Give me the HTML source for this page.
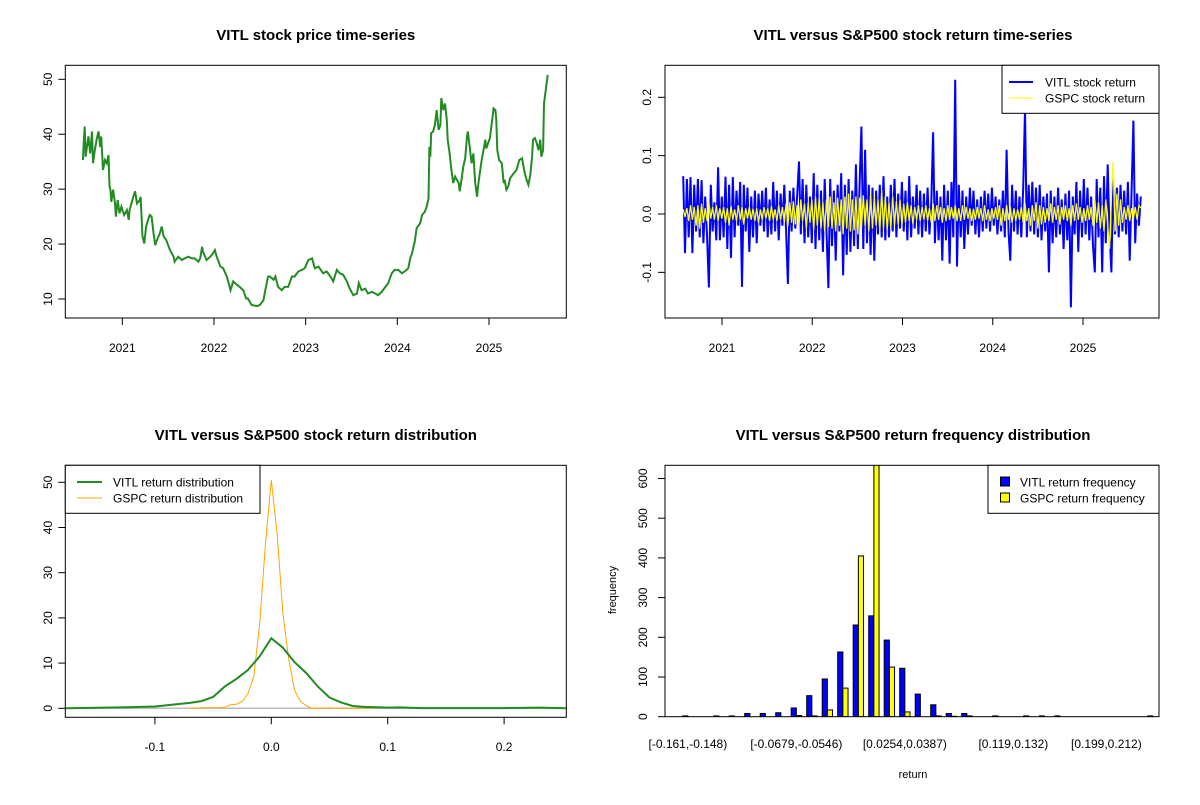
<!DOCTYPE html>
<html><head><meta charset="utf-8"><style>
body{margin:0;background:#fff}
svg text{font-family:"Liberation Sans",Arial,sans-serif;fill:#000}
</style></head><body>
<svg id="c" width="1200" height="800" viewBox="0 0 1200 800" xmlns="http://www.w3.org/2000/svg">
<defs>
<clipPath id="cp2"><rect x="665" y="65.3" width="494" height="252.7"/></clipPath>
<clipPath id="cp4"><rect x="665" y="465.3" width="494" height="251.4"/></clipPath>
</defs>
</svg>
<script>
// ---- data ----
const priceDates=[2020.57,2020.58,2020.59,2020.60,2020.63,2020.65,2020.67,2020.68,2020.70,2020.72,2020.74,2020.76,2020.77,2020.79,2020.81,2020.83,2020.85,2020.86,2020.87,2020.88,2020.90,2020.92,2020.93,2020.95,2020.97,2020.99,2021.02,2021.05,2021.07,2021.08,2021.12,2021.14,2021.16,2021.19,2021.20,2021.22,2021.24,2021.26,2021.28,2021.30,2021.32,2021.34,2021.36,2021.37,2021.41,2021.43,2021.45,2021.48,2021.52,2021.56,2021.57,2021.61,2021.65,2021.68,2021.72,2021.76,2021.79,2021.83,2021.85,2021.87,2021.88,2021.92,2021.96,2021.99,2022.01,2022.03,2022.07,2022.10,2022.14,2022.16,2022.18,2022.21,2022.25,2022.28,2022.32,2022.35,2022.37,2022.41,2022.47,2022.50,2022.54,2022.56,2022.59,2022.61,2022.65,2022.67,2022.70,2022.74,2022.77,2022.81,2022.85,2022.88,2022.92,2022.96,2022.99,2023.03,2023.07,2023.10,2023.14,2023.19,2023.23,2023.27,2023.30,2023.34,2023.37,2023.41,2023.45,2023.48,2023.52,2023.56,2023.58,2023.61,2023.65,2023.68,2023.72,2023.76,2023.79,2023.83,2023.87,2023.90,2023.94,2023.97,2024.01,2024.05,2024.08,2024.12,2024.14,2024.16,2024.19,2024.21,2024.25,2024.27,2024.30,2024.32,2024.34,2024.35,2024.36,2024.37,2024.39,2024.41,2024.43,2024.45,2024.47,2024.48,2024.50,2024.52,2024.54,2024.55,2024.57,2024.59,2024.61,2024.63,2024.67,2024.68,2024.70,2024.72,2024.74,2024.76,2024.77,2024.79,2024.81,2024.83,2024.85,2024.87,2024.88,2024.90,2024.92,2024.94,2024.96,2024.97,2025.01,2025.03,2025.05,2025.07,2025.08,2025.09,2025.11,2025.14,2025.16,2025.17,2025.19,2025.21,2025.23,2025.27,2025.30,2025.33,2025.36,2025.39,2025.41,2025.43,2025.45,2025.47,2025.48,2025.50,2025.52,2025.54,2025.56,2025.57,2025.59,2025.60,2025.62,2025.64];
const prices=[35.3,38.7,41.4,35.9,39.6,36.5,40.5,34.7,37.1,39.0,40.5,37.7,39.6,33.5,35.3,34.7,36.2,30.5,29.9,27.7,29.9,27.4,25.0,28.0,25.6,26.8,25.3,26.2,24.4,26.2,28.6,29.6,27.4,28.0,28.6,21.4,20.1,23.2,24.4,25.3,25.0,22.0,19.8,20.4,22.0,23.2,21.4,20.7,18.9,17.7,16.8,17.7,17.1,17.4,17.7,17.4,17.4,16.8,17.4,19.5,18.6,17.1,17.7,18.3,18.9,17.7,15.9,15.6,14.1,12.9,11.6,13.2,12.6,12.2,11.6,10.1,10.1,8.9,8.7,8.9,9.8,11.6,14.1,14.1,13.5,14.1,12.2,11.6,12.2,12.2,14.1,14.1,15.0,15.3,15.6,17.1,17.4,15.6,15.9,14.7,15.0,14.1,13.2,15.3,14.7,14.4,13.2,11.9,10.7,11.0,12.9,11.6,11.9,11.0,11.3,11.0,10.7,11.3,12.2,12.9,14.7,15.3,15.3,14.7,15.0,15.6,17.4,18.3,20.4,22.9,23.8,25.3,25.9,26.8,28.3,37.7,35.9,40.2,40.5,41.7,44.4,40.8,41.7,46.6,44.4,45.6,42.6,39.0,36.5,33.5,31.1,32.3,31.1,29.6,31.7,34.1,35.6,39.6,40.5,37.7,34.7,36.5,31.1,28.6,30.5,32.9,35.3,37.1,39.0,37.4,39.3,42.0,44.7,44.4,42.6,37.1,35.3,34.7,31.1,31.7,29.9,30.5,32.0,32.9,33.5,35.3,35.6,32.9,31.7,30.8,32.6,35.9,39.0,39.3,38.4,37.1,39.0,35.9,37.1,45.6,48.1,50.8];
const priceYTicks=[10,20,30,40,50];
const yearTicks=[2021,2022,2023,2024,2025];

const vitlRet=[0.065,-0.067,0.06,-0.04,0.063,-0.067,0.05,-0.03,0.06,-0.04,
0.058,-0.05,0.03,-0.04,-0.126,0.05,-0.03,0.02,-0.045,0.08,
-0.045,0.03,-0.04,0.064,-0.06,0.05,-0.075,0.063,-0.04,0.04,
-0.02,0.055,-0.125,0.05,-0.03,0.045,-0.065,0.03,-0.04,0.04,
-0.05,0.035,-0.02,0.04,-0.03,0.045,-0.04,0.025,-0.035,0.055,
-0.03,0.04,-0.045,0.035,-0.02,0.05,-0.03,-0.12,0.04,-0.03,
0.045,-0.025,0.03,0.09,-0.035,0.06,-0.05,0.05,-0.04,0.03,
-0.05,0.07,-0.06,0.05,-0.045,0.04,-0.065,0.06,-0.03,-0.127,
0.06,-0.055,0.04,-0.08,0.05,-0.03,0.07,-0.105,0.05,-0.07,
0.06,-0.065,0.04,-0.055,0.085,-0.06,0.05,0.15,-0.06,0.11,
-0.05,0.05,-0.07,0.045,-0.08,0.04,-0.035,0.05,-0.04,0.065,
-0.045,0.03,-0.04,0.05,-0.03,0.06,-0.04,0.035,-0.025,0.055,
-0.03,0.04,-0.045,0.065,-0.04,0.03,-0.025,0.05,-0.035,0.04,
-0.04,0.035,-0.03,0.045,-0.035,0.02,0.14,-0.05,0.04,-0.045,
0.03,-0.08,0.05,-0.045,0.04,-0.085,0.055,-0.04,0.23,-0.09,
0.05,-0.04,0.04,-0.06,0.03,-0.035,0.045,-0.02,0.04,-0.035,
0.025,-0.04,0.03,-0.03,0.04,-0.025,0.035,-0.03,0.045,-0.02,
0.03,-0.035,0.025,-0.03,0.04,-0.04,0.11,-0.03,-0.08,0.05,
-0.03,0.04,-0.035,0.03,-0.04,0.045,0.18,-0.04,0.05,-0.03,
0.055,-0.035,0.045,-0.04,0.05,-0.045,0.03,-0.03,0.035,-0.10,
0.04,-0.05,0.03,-0.04,0.045,-0.035,0.025,-0.06,0.035,-0.045,
0.04,-0.16,0.03,-0.035,0.055,-0.065,0.04,-0.04,0.06,-0.035,
0.045,-0.045,0.03,-0.055,-0.10,0.06,-0.04,0.045,-0.10,0.065,
-0.05,0.085,-0.03,-0.10,0.06,-0.035,0.045,-0.04,0.05,-0.03,
0.04,-0.035,0.055,-0.08,0.04,0.16,-0.05,0.035,-0.02,0.03];
const gspcRet=[0.008,-0.005,0.01,-0.012,0.015,-0.01,0.012,-0.02,0.015,-0.025,
0.018,-0.015,0.01,-0.012,0.02,-0.008,0.012,-0.01,0.015,-0.012,
0.01,-0.008,0.012,-0.015,0.01,-0.02,0.014,-0.01,0.008,-0.012,
0.015,-0.01,0.012,-0.018,0.01,-0.008,0.012,-0.01,0.009,-0.012,
0.01,-0.015,0.008,-0.01,0.012,-0.008,0.01,-0.012,0.014,-0.01,
0.008,-0.012,0.015,-0.01,0.012,-0.015,0.018,-0.02,0.02,-0.015,
0.022,-0.018,0.015,-0.02,0.025,-0.012,0.018,-0.025,0.02,-0.015,
0.025,-0.028,0.03,-0.02,0.028,-0.025,0.02,-0.03,0.025,-0.022,
0.03,-0.025,0.02,-0.03,0.028,-0.02,0.025,-0.035,0.03,-0.025,
0.035,-0.03,0.025,-0.028,0.03,-0.035,0.028,-0.025,0.032,-0.02,
0.025,-0.03,0.035,-0.025,0.03,-0.02,0.025,-0.03,0.04,-0.025,
0.03,-0.028,0.02,-0.025,0.03,-0.02,0.022,-0.018,0.025,-0.02,
0.018,-0.015,0.02,-0.012,0.015,-0.018,0.012,-0.01,0.015,-0.012,
0.012,-0.01,0.015,-0.012,0.01,-0.015,0.018,-0.012,0.015,-0.01,
0.012,-0.015,0.01,-0.012,0.015,-0.01,0.012,-0.008,0.015,-0.012,
0.01,-0.012,0.015,-0.01,0.012,-0.008,0.01,-0.012,0.009,-0.01,
0.012,-0.008,0.01,-0.012,0.015,-0.01,0.008,-0.012,0.01,-0.008,
0.012,-0.01,0.015,-0.02,0.01,-0.012,0.015,-0.01,0.012,-0.015,
0.01,-0.012,0.008,-0.01,0.012,-0.015,0.018,-0.012,0.01,-0.02,
0.015,-0.012,0.02,-0.025,0.015,-0.018,0.012,-0.015,0.01,-0.012,
0.018,-0.015,0.012,-0.01,0.015,-0.018,0.012,-0.01,0.015,-0.012,
0.01,-0.02,0.015,-0.012,0.018,-0.01,0.012,-0.015,0.01,-0.012,
0.015,-0.01,0.012,-0.02,0.025,-0.015,0.02,-0.025,0.015,-0.03,
0.025,-0.02,-0.06,0.03,0.09,-0.03,0.035,-0.02,0.025,-0.015,
0.012,-0.01,0.015,-0.012,0.01,-0.008,0.012,-0.01,0.015,0.01];
const retYTicks=[-0.1,0.0,0.1,0.2];
const retYLabels=["-0.1","0.0","0.1","0.2"];
const retStart=2020.57, retEnd=2025.64;

const densX=[-0.177,-0.13,-0.1,-0.07,-0.06,-0.05,-0.04,-0.03,-0.02,-0.01,0,0.01,0.02,0.03,0.04,0.05,0.06,0.07,0.08,0.1,0.11,0.13,0.15,0.2,0.23,0.253];
const vitlDens=[0,0.2,0.4,1.2,1.6,2.5,4.8,6.5,8.5,11.5,15.5,13.4,10.2,7.8,4.8,2.4,1.3,0.5,0.3,0.15,0.2,0.05,0.05,0.05,0.15,0];
const gspcX=[-0.07,-0.06,-0.045,-0.04,-0.035,-0.03,-0.025,-0.02,-0.015,-0.01,-0.005,0,0.005,0.01,0.015,0.02,0.025,0.03,0.035,0.045,0.05,0.055,0.08,0.09,0.095];
const gspcDens=[0,0.1,0.1,0.2,0.8,0.9,1.5,3.3,7.0,18.8,36.5,50.5,38.7,21.0,10.7,4.0,1.5,0.6,0,0,0.1,0,0,0.1,0];
const densXTicks=[-0.1,0,0.1,0.2];
const densXLabels=["-0.1","0.0","0.1","0.2"];
const densYTicks=[0,10,20,30,40,50];

const vitlFreq=[2,0,2,2,8,8,10,22,53,95,163,231,254,193,122,57,30,8,8,0,2,0,2,2,2,0,0,0,0,0,2];
const gspcFreq=[0,0,0,0,0,0,0,3,2,17,72,405,700,125,12,0,2,1,2,0,0,0,0,0,0,0,0,0,0,0,0];
const binLabels={0:"[-0.161,-0.148)",7:"[-0.0679,-0.0546)",14:"[0.0254,0.0387)",21:"[0.119,0.132)",27:"[0.199,0.212)"};
const freqTicks=[0,100,200,300,400,500,600];

// ---- helpers ----
const svg=document.getElementById('c');
const NS='http://www.w3.org/2000/svg';
function mk(tag,attrs,parent){const e=document.createElementNS(NS,tag);for(const k in attrs)e.setAttribute(k,attrs[k]);(parent||svg).appendChild(e);return e;}
function lin(d0,d1,r0,r1){return v=>r0+(v-d0)*(r1-r0)/(d1-d0);}
function txt(x,y,s,opt,parent){opt=opt||{};const t=mk('text',{x:x,y:y,'font-size':opt.size||12,'text-anchor':opt.anchor||'middle'},parent);if(opt.bold)t.setAttribute('font-weight','bold');if(opt.rot)t.setAttribute('transform','rotate(-90 '+x+' '+y+')');t.textContent=s;return t;}
function grp(name){const g=mk('g',{});return g;}

// ===== Panel 1 =====
(function(){
const g=grp('price-panel');
const xs=lin(2021,2025,122.3,489), ys=lin(10,50,299,79.3);
const t=txt(315.8,40,'VITL stock price time-series',{size:15,bold:true},g);

const pts=prices.map((v,i)=>xs(priceDates[i]).toFixed(1)+','+ys(v).toFixed(1)).join(' ');
const pl=mk('polyline',{points:pts,fill:'none',stroke:'#228B22','stroke-width':2},g);

const b=mk('rect',{x:65.3,y:65.3,width:501,height:252.7,fill:'none',stroke:'#000','stroke-width':1},g);

priceYTicks.forEach(v=>{const y=ys(v);mk('line',{x1:58.3,x2:65.3,y1:y,y2:y,stroke:'#000'},g);const l=txt(52,y,String(v),{rot:true},g);});
yearTicks.forEach(v=>{const x=xs(v);mk('line',{x1:x,x2:x,y1:318,y2:325,stroke:'#000'},g);const l=txt(x,352,String(v),{},g);});
})();

// ===== Panel 2 =====
(function(){
const g=grp('return-panel');
const xs=lin(2021,2025,722,1083), ys=lin(0,0.2,214,97.3);
const t=txt(913,40,'VITL versus S&P500 stock return time-series',{size:15,bold:true},g);

const cg=mk('g',{'clip-path':'url(#cp2)'},g);
function dateAt(i,n){return retStart+(retEnd-retStart)*i/(n-1);}
const p1=mk('polyline',{points:vitlRet.map((v,i)=>xs(dateAt(i,vitlRet.length)).toFixed(1)+','+ys(v).toFixed(1)).join(' '),fill:'none',stroke:'#0000FF','stroke-width':2},cg);

const p2=mk('polyline',{points:gspcRet.map((v,i)=>xs(dateAt(i,gspcRet.length)).toFixed(1)+','+ys(v).toFixed(1)).join(' '),fill:'none',stroke:'#FFFF00','stroke-width':1.3},cg);

const b=mk('rect',{x:665,y:65.3,width:494,height:252.7,fill:'none',stroke:'#000'},g);

retYTicks.forEach((v,i)=>{const y=ys(v);mk('line',{x1:658,x2:665,y1:y,y2:y,stroke:'#000'},g);const l=txt(651,y,retYLabels[i],{rot:true},g);});
yearTicks.forEach(v=>{const x=xs(v);mk('line',{x1:x,x2:x,y1:318,y2:325,stroke:'#000'},g);const l=txt(x,352,String(v),{},g);});
const lg=mk('g',{},g);
mk('rect',{x:1002,y:65.3,width:157,height:48,fill:'#fff',stroke:'#000'},lg);
mk('line',{x1:1009,x2:1033,y1:82,y2:82,stroke:'#0000FF','stroke-width':2},lg);
mk('line',{x1:1009,x2:1033,y1:98,y2:98,stroke:'#FFFF00','stroke-width':1},lg);
txt(1045,86.5,'VITL stock return',{anchor:'start'},lg);
txt(1045,102.5,'GSPC stock return',{anchor:'start'},lg);
})();

// ===== Panel 3 =====
(function(){
const g=grp('density-panel');
const xs=lin(0,0.1,271.3,387.7), ys=lin(0,50,708.3,482.3);
const t=txt(315.8,440,'VITL versus S&P500 stock return distribution',{size:15,bold:true},g);

mk('line',{x1:65.3,x2:566.3,y1:ys(0),y2:ys(0),stroke:'#BEBEBE','stroke-width':1.5},g);
const p2=mk('polyline',{points:gspcX.map((x,i)=>xs(x).toFixed(1)+','+ys(gspcDens[i]).toFixed(1)).join(' '),fill:'none',stroke:'#FFA500','stroke-width':1},g);

const p1=mk('polyline',{points:densX.map((x,i)=>xs(x).toFixed(1)+','+ys(vitlDens[i]).toFixed(1)).join(' '),fill:'none',stroke:'#228B22','stroke-width':2},g);

const b=mk('rect',{x:65.3,y:465.3,width:501,height:252,fill:'none',stroke:'#000'},g);

densYTicks.forEach(v=>{const y=ys(v);mk('line',{x1:58.3,x2:65.3,y1:y,y2:y,stroke:'#000'},g);const l=txt(52,y,String(v),{rot:true},g);});
densXTicks.forEach((v,i)=>{const x=xs(v);mk('line',{x1:x,x2:x,y1:717.3,y2:724.3,stroke:'#000'},g);const l=txt(x,751,densXLabels[i],{},g);});
const lg=mk('g',{},g);
mk('rect',{x:65.3,y:465.3,width:194.7,height:48,fill:'#fff',stroke:'#000'},lg);
mk('line',{x1:77,x2:102,y1:482,y2:482,stroke:'#228B22','stroke-width':2},lg);
mk('line',{x1:77,x2:102,y1:498,y2:498,stroke:'#FFA500','stroke-width':1},lg);
txt(113,486.5,'VITL return distribution',{anchor:'start'},lg);
txt(113,502.5,'GSPC return distribution',{anchor:'start'},lg);
})();

// ===== Panel 4 =====
(function(){
const g=grp('histogram-panel');
const ys=lin(0,600,716.7,478.5);
const gw=15.5, bw=gw/3, x0=682.7;
const t=txt(913,440,'VITL versus S&P500 return frequency distribution',{size:15,bold:true},g);

const cg=mk('g',{'clip-path':'url(#cp4)'},g);
vitlFreq.forEach((v,i)=>{const x=x0+i*gw;const r=mk('rect',{x:x,y:ys(v),width:bw,height:ys(0)-ys(v),fill:'#0000FF',stroke:'#000','stroke-width':1},cg);
});
gspcFreq.forEach((v,i)=>{const x=x0+i*gw+bw;const r=mk('rect',{x:x,y:ys(v),width:bw,height:ys(0)-ys(v),fill:'#FFFF00',stroke:'#000','stroke-width':1},cg);
});
const b=mk('rect',{x:665,y:465.3,width:494,height:251.4,fill:'none',stroke:'#000'},g);

freqTicks.forEach(v=>{const y=ys(v);mk('line',{x1:658,x2:665,y1:y,y2:y,stroke:'#000'},g);const l=txt(647,y,String(v),{rot:true},g);});
for(const k in binLabels){const x=x0+Number(k)*gw+bw;const l=txt(x,748,binLabels[k],{},g);}
const yl=txt(616,590,'frequency',{rot:true,size:11},g);
const xl=txt(913,778,'return',{size:11},g);
const lg=mk('g',{},g);
mk('rect',{x:988,y:465.3,width:171,height:48,fill:'#fff',stroke:'#000'},lg);
mk('rect',{x:1000.5,y:477,width:9,height:9,fill:'#0000FF',stroke:'#000'},lg);
mk('rect',{x:1000.5,y:493,width:9,height:9,fill:'#FFFF00',stroke:'#000'},lg);
txt(1020,486.5,'VITL return frequency',{anchor:'start'},lg);
txt(1020,502.5,'GSPC return frequency',{anchor:'start'},lg);
})();
</script>
</body></html>
